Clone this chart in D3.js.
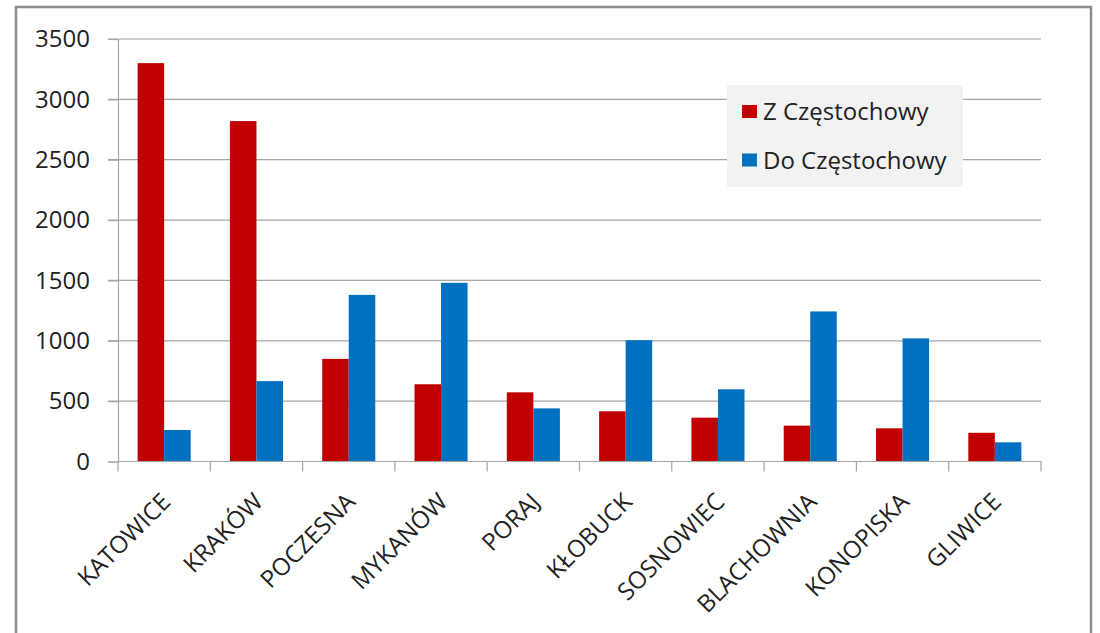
<!DOCTYPE html>
<html>
<head>
<meta charset="utf-8">
<script src="https://cdn.jsdelivr.net/npm/d3@7"></script>
<style>
  body { margin: 0; background: #fff; }
  svg { display: block; font-family: "Open Sans", sans-serif; }
</style>
</head>
<body>
<svg id="svg-main" width="1100" height="633"></svg>
<script>
var cities = ["KATOWICE", "KRAKÓW", "POCZESNA", "MYKANÓW", "PORAJ", "KŁOBUCK",
              "SOSNOWIEC", "BLACHOWNIA", "KONOPISKA", "GLIWICE"];
var fromCz = [3300, 2820, 850, 640, 573, 416, 363, 297, 275, 238];
var toCz = [261, 666, 1380, 1480, 440, 1005, 598, 1243, 1020, 159];
var seriesNames = ["Z Częstochowy", "Do Częstochowy"];
var seriesColors = ["#c00000", "#0070c0"];
var yTicks = [0, 500, 1000, 1500, 2000, 2500, 3000, 3500];

function draw_chart() {
    var svg = d3.select("#svg-main");
    var plotLeft = 118, plotRight = 1041, plotTop = 39, plotBottom = 461.5;

    // outer frame
    svg.append("path")
      .attr("d", "M 16 633 L 16 7 L 1091 7 L 1091 633")
      .attr("fill", "none")
      .attr("stroke", "#8c8c8c")
      .attr("stroke-width", 2.5);

    var x = d3.scaleBand().domain(cities).range([plotLeft, plotRight])
      .paddingInner(0.425).paddingOuter(0.2125);
    var xs = d3.scaleBand().domain([0, 1]).range([0, x.bandwidth()]);
    var y = d3.scaleLinear().domain([0, 3500]).range([plotBottom, plotTop]);

    // gridlines
    svg.append("g").selectAll("line").data(yTicks.slice(1)).enter()
      .append("line")
      .attr("x1", plotLeft - 10).attr("x2", plotRight)
      .attr("y1", function(d) { return y(d); })
      .attr("y2", function(d) { return y(d); })
      .attr("stroke", "#a6a6a6").attr("stroke-width", 1.2);

    // y axis
    var yAxis = svg.append("g").attr("transform", "translate(" + plotLeft + ",0)")
      .call(d3.axisLeft(y).tickValues(yTicks).tickSize(10).tickPadding(18)
        .tickFormat(d3.format("d")));
    yAxis.select(".domain").attr("stroke", "#a6a6a6").attr("stroke-width", 1.2);
    yAxis.selectAll(".tick line").attr("stroke", "#a6a6a6").attr("stroke-width", 1.2);
    yAxis.selectAll("text")
      .attr("font-family", "Open Sans").style("font-size", "24px").attr("fill", "#222");

    // bars
    var rows = cities.map(function(c, i) { return { city: c, vals: [fromCz[i], toCz[i]] }; });
    var groups = svg.append("g").selectAll("g").data(rows).enter()
      .append("g")
      .attr("transform", function(d) { return "translate(" + x(d.city) + ",0)"; });
    groups.selectAll("rect")
      .data(function(d) { return d.vals.map(function(v, k) { return { k: k, v: v }; }); })
      .enter().append("rect")
      .attr("x", function(d) { return xs(d.k); })
      .attr("width", xs.bandwidth())
      .attr("y", function(d) { return y(d.v); })
      .attr("height", function(d) { return y(0) - y(d.v); })
      .attr("fill", function(d) { return seriesColors[d.k]; });

    // x axis
    var edges = d3.scaleLinear().domain([0, cities.length]).range([plotLeft, plotRight]);
    svg.append("line")
      .attr("x1", plotLeft).attr("x2", plotRight).attr("y1", plotBottom).attr("y2", plotBottom)
      .attr("stroke", "#a6a6a6").attr("stroke-width", 1.2);
    svg.append("g").selectAll("line").data(d3.range(cities.length + 1)).enter()
      .append("line")
      .attr("x1", function(d) { return edges(d); })
      .attr("x2", function(d) { return edges(d); })
      .attr("y1", plotBottom).attr("y2", plotBottom + 10)
      .attr("stroke", "#a6a6a6").attr("stroke-width", 1.2);

    svg.append("g").selectAll("text").data(cities).enter()
      .append("text")
      .attr("transform", function(d) {
        return "translate(" + (x(d) + x.bandwidth() / 2 - 4) + "," + (plotBottom + 30) + ") rotate(-45)";
      })
      .attr("text-anchor", "end")
      .attr("dy", "0.7em")
      .attr("fill", "#222")
      .style("font-size", "24px")
      .text(function(d) { return d; });

    // legend
    var legend = svg.append("g");
    legend.append("rect")
      .attr("x", 727).attr("y", 85).attr("width", 236).attr("height", 102)
      .attr("fill", "#f2f2f2");
    var items = legend.selectAll("g").data(seriesNames).enter()
      .append("g")
      .attr("transform", function(d, i) { return "translate(742," + (105 + i * 48.5) + ")"; });
    items.append("rect")
      .attr("width", 15).attr("height", 13)
      .attr("fill", function(d, i) { return seriesColors[i]; });
    items.append("text")
      .attr("x", 21).attr("y", 15)
      .attr("fill", "#222")
      .style("font-size", "24px")
      .text(function(d) { return d; });
}

draw_chart();
</script>
</body>
</html>
